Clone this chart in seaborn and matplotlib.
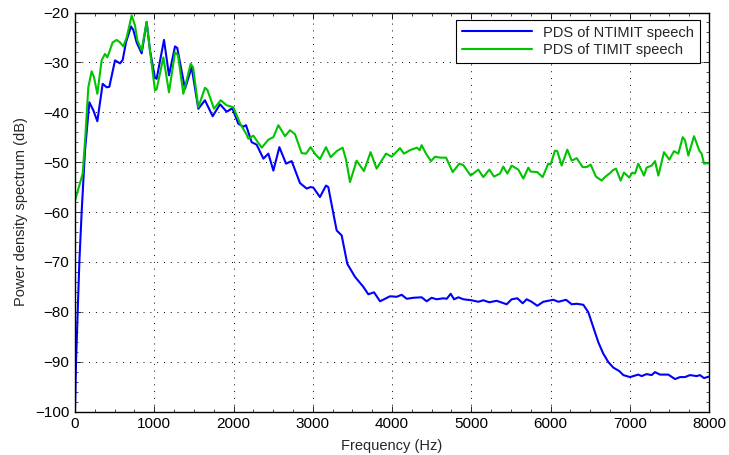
import matplotlib
matplotlib.use("Agg")
import matplotlib.pyplot as plt
import seaborn as sns
import pandas as pd
from matplotlib.ticker import MultipleLocator

# NTIMIT (blue) series
ntimit_freq = [0, 13, 34, 55, 84, 126, 181, 231, 282, 349, 400, 433, 505, 568, 602, 643, 707, 736, 778,
               841, 904, 946, 1009, 1030, 1123, 1186, 1262, 1290, 1388, 1472, 1556, 1640, 1737, 1830,
               1914, 1985, 2061, 2124, 2158, 2229, 2292, 2377, 2440, 2503, 2579, 2663, 2734, 2839, 2923,
               2973, 3007, 3091, 3167, 3196, 3260, 3302, 3365, 3436, 3533, 3638, 3701, 3773, 3849, 3975,
               4059, 4122, 4185, 4270, 4374, 4437, 4500, 4563, 4648, 4690, 4741, 4783, 4838, 4900, 5005,
               5089, 5152, 5228, 5320, 5447, 5510, 5582, 5649, 5699, 5762, 5833, 5909, 6036, 6099, 6196,
               6267, 6330, 6414, 6477, 6540, 6603, 6666, 6730, 6793, 6868, 6919, 7003, 7108, 7150, 7213,
               7276, 7319, 7382, 7487, 7571, 7634, 7697, 7760, 7844, 7886, 7937, 8000]
ntimit_pds = [-100, -90, -80, -70, -60, -47.7, -38, -39.6, -41.8, -34.3, -35, -34.9, -29.6, -30.2, -29.5,
              -26, -22.8, -23.5, -26, -28.2, -21.9, -27.6, -33.1, -33.3, -25.5, -32.6, -26.8, -27.1,
              -35.3, -31, -39.3, -37.6, -40.8, -38.4, -39.9, -39.2, -42.3, -42.9, -42.6, -46, -46.5,
              -49.3, -48.3, -51.7, -47, -50.3, -49.8, -54.2, -55.3, -55, -55.1, -57, -54.7, -55, -60.3,
              -63.7, -64.7, -70.4, -73, -75, -76.5, -76.1, -77.9, -76.9, -77, -76.6, -77.4, -77.2,
              -77.1, -77.9, -77.2, -77.5, -77.3, -77.4, -76.4, -77.5, -77.1, -77.5, -77.7, -78, -77.7,
              -78.1, -77.8, -78.5, -77.5, -77.3, -78.3, -77.5, -78, -78.8, -78, -77.6, -78, -77.6,
              -78.5, -78.4, -78.6, -80.1, -83.1, -86.1, -88.4, -90.1, -91.2, -91.9, -92.7, -93.1,
              -92.6, -92.9, -92.5, -92.7, -92.1, -92.6, -92.6, -93.5, -93.1, -93.1, -92.7, -92.9,
              -92.7, -93.3, -93]

# TIMIT (green) series
timit_freq = [0, 97, 130, 168, 210, 240, 282, 336, 378, 408, 475, 526, 568, 610, 652, 715, 757, 787, 841,
              904, 946, 1009, 1030, 1115, 1186, 1262, 1300, 1367, 1459, 1490, 1556, 1640, 1670, 1754,
              1838, 1914, 1998, 2082, 2166, 2187, 2250, 2356, 2440, 2503, 2566, 2650, 2713, 2776, 2860,
              2915, 2973, 3027, 3091, 3167, 3226, 3302, 3377, 3420, 3470, 3554, 3646, 3730, 3806, 3924,
              3996, 4101, 4151, 4227, 4315, 4349, 4374, 4429, 4492, 4543, 4606, 4682, 4766, 4850, 4900,
              4993, 5089, 5152, 5228, 5287, 5363, 5404, 5455, 5510, 5594, 5657, 5720, 5750, 5833, 5901,
              5972, 6000, 6057, 6086, 6141, 6212, 6267, 6330, 6406, 6456, 6506, 6574, 6645, 6687, 6750,
              6790, 6826, 6885, 6927, 6994, 7032, 7066, 7107, 7180, 7213, 7276, 7319, 7361, 7432, 7499,
              7558, 7613, 7668, 7697, 7739, 7811, 7878, 7907, 7937, 8000]
timit_pds = [-57.7, -52.3, -45, -35, -31.8, -33, -36.3, -29.6, -28.3, -29, -26, -25.5, -26, -26.8, -25,
             -20.6, -22.6, -25.6, -27.6, -21.9, -27.6, -35.6, -35.4, -29, -36, -28, -28.6, -36.3, -30.3,
             -31, -39, -35.1, -35.5, -39.3, -37.6, -38.6, -39, -42.2, -44.5, -45.3, -44.7, -47.1, -45.5,
             -45, -42.6, -44.8, -43.6, -44.4, -48.2, -48.3, -47, -48.3, -49.4, -47, -49, -47.8, -47.1,
             -49.5, -54, -49.7, -51.8, -48, -51.3, -48.3, -48.9, -47.2, -48.3, -47.6, -47.1, -47.6,
             -46.6, -48.3, -49.8, -48.9, -49.1, -49.1, -52, -50.3, -50.6, -52.7, -51.5, -53, -51.5,
             -52.9, -52.3, -50.9, -52.3, -50.7, -51.5, -53.3, -51.1, -51.9, -52, -53, -50.3, -50.5,
             -47.7, -47.8, -50.7, -47.5, -49.7, -49.2, -51, -51, -50.5, -52.9, -53.7, -53, -52.2,
             -51.6, -51.3, -53.7, -52.1, -53.1, -52.1, -52.3, -50.3, -52.7, -51.1, -50.7, -49.8, -52.7,
             -48, -49.5, -47.8, -48.3, -45, -45.6, -48.7, -44.8, -47.7, -48.3, -50.3, -50.2]

labels = ["PDS of NTIMIT speech", "PDS of TIMIT speech"]
colors = ["#0000ff", "#00c400"]

df = pd.concat([
    pd.DataFrame({"f": ntimit_freq, "p": ntimit_pds, "s": labels[0]}),
    pd.DataFrame({"f": timit_freq, "p": timit_pds, "s": labels[1]}),
])

sns.set_style("white")
plt.rcParams["font.family"] = ["Liberation Sans", "DejaVu Sans"]

fig = plt.figure(figsize=(7.29, 4.55), dpi=100)
ax = fig.add_axes([75/729, 1-411.5/455, 634/729, 399/455])

sns.lineplot(data=df, x="f", y="p", hue="s", palette=colors, linewidth=1.5,
             ax=ax, estimator=None, sort=False)

ax.set_xlim(0, 8000)
ax.set_ylim(-100, -20)
ax.xaxis.set_major_locator(MultipleLocator(1000))
ax.yaxis.set_major_locator(MultipleLocator(10))
ax.xaxis.set_minor_locator(MultipleLocator(250))
ax.yaxis.set_minor_locator(MultipleLocator(2))
ax.grid(True, which="major", color="black", linestyle=(0, (1, 6)), linewidth=0.7)
ax.tick_params(which="both", direction="in", top=True, right=True, bottom=True, left=True,
               labelsize=11, colors="black")
ax.tick_params(which="major", length=4, width=0.6, pad=4)
ax.tick_params(which="minor", length=2, width=0.5)
for sp in ax.spines.values():
    sp.set_color("black")
    sp.set_linewidth(1.0)
ax.set_xlabel("Frequency (Hz)", fontsize=10.5, labelpad=6)
ax.set_ylabel("Power density spectrum (dB)", fontsize=10.5, labelpad=5)

leg = ax.legend(loc="upper right", bbox_to_anchor=(0.986, 0.982), borderaxespad=0,
                fontsize=10.5, handlelength=4.8, frameon=True, fancybox=False,
                edgecolor="black", framealpha=1, borderpad=0.4, labelspacing=0.25)
leg.get_frame().set_linewidth(0.8)
leg.set_title(None)

fig.savefig("out.png", dpi=100)
